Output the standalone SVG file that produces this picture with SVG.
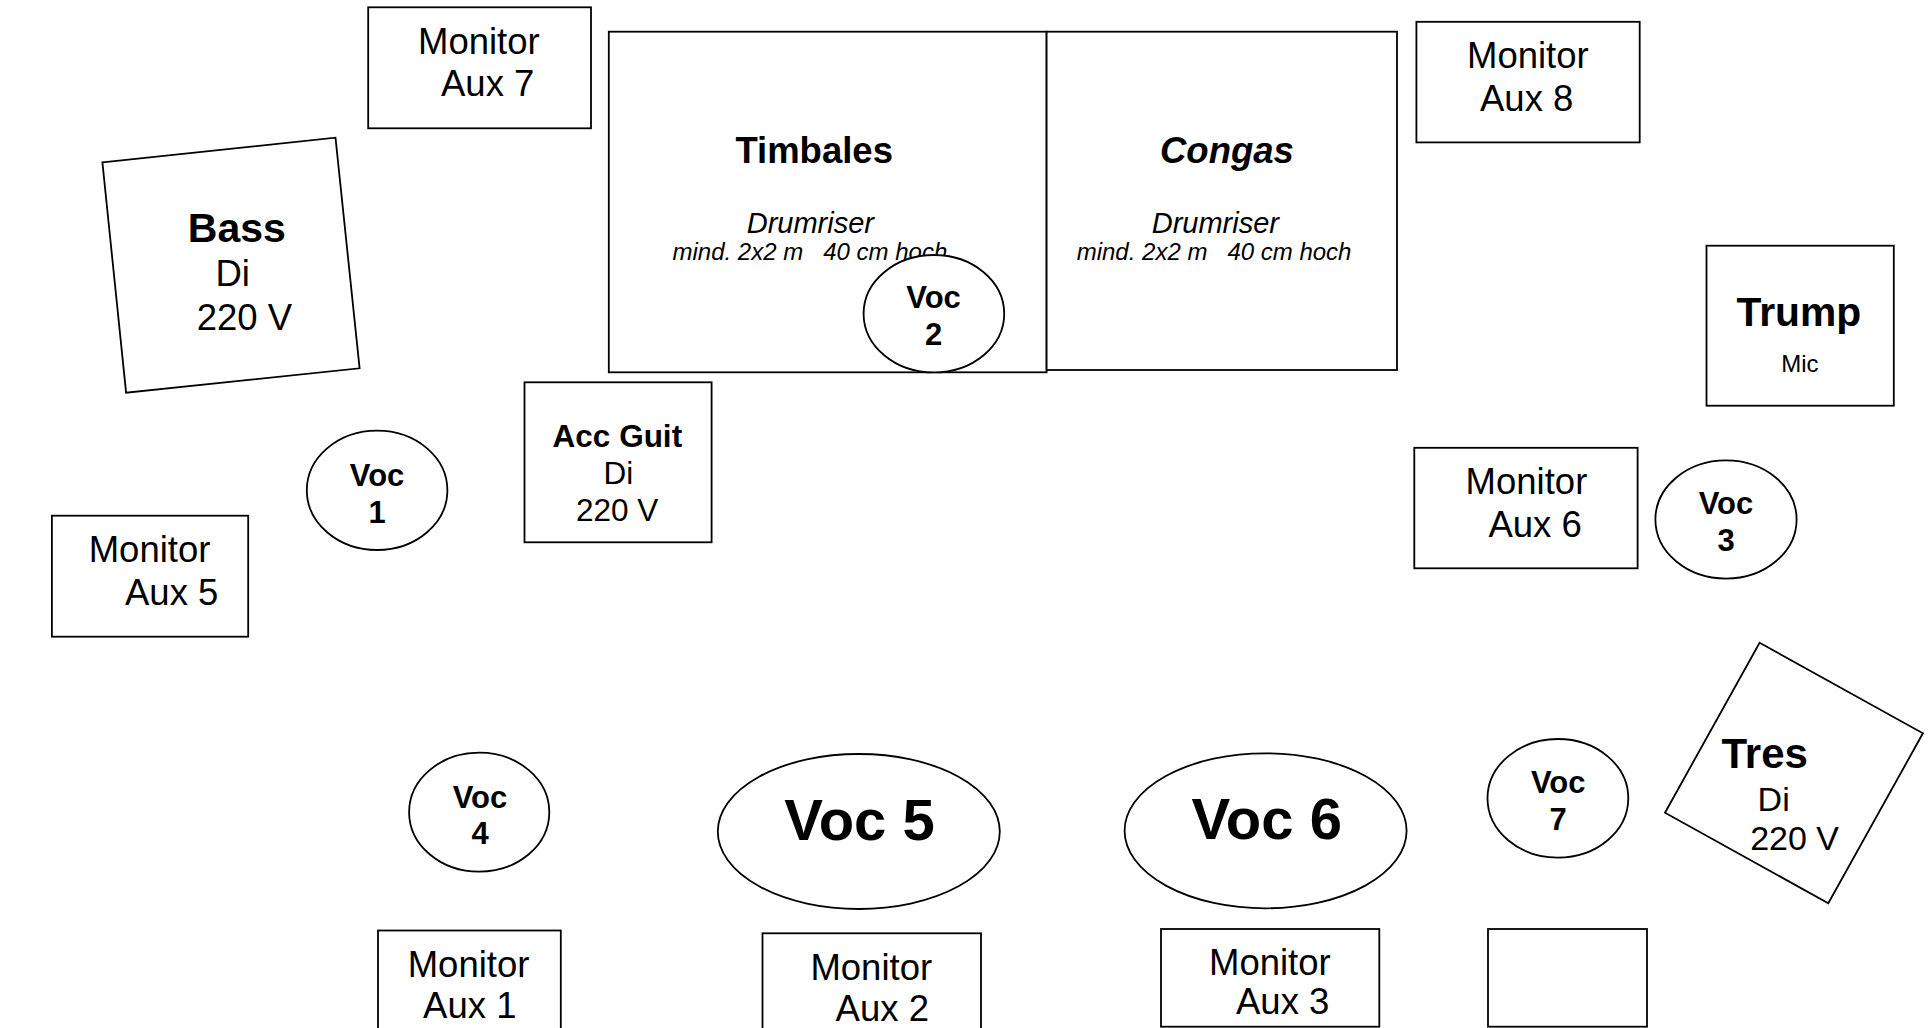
<svg xmlns="http://www.w3.org/2000/svg" width="1928" height="1028" viewBox="0 0 1928 1028">
<style>
.box{fill:#fff;stroke:#000;stroke-width:1.8}
.t{font-family:"Liberation Sans",Arial,sans-serif;fill:#000}
.m{font-size:36.5px}
.b{font-weight:bold}
.i{font-style:italic}
.v{font-size:31px;font-weight:bold;text-anchor:middle}
.big{font-size:58px;font-weight:bold;text-anchor:middle}
</style>
<rect width="1928" height="1028" fill="#fff"/>
<g id="connectors"/>

<g id="timbales">
<rect class="box" x="608.8" y="31.7" width="437.8" height="340.6"/>
<text class="t b" x="735.4" y="162.7" font-size="36.5">Timbales</text>
<text class="t i" x="746.7" y="232.8" font-size="29">Drumriser</text>
<text class="t i" x="672.5" y="260" font-size="24" xml:space="preserve">mind. 2x2 m   40 cm hoch</text>
</g>
<g id="congas">
<rect class="box" x="1046.6" y="31.7" width="350.4" height="338.3"/>
<text class="t b i" x="1160" y="162.7" font-size="36.5">Congas</text>
<text class="t i" x="1151.7" y="232.8" font-size="29">Drumriser</text>
<text class="t i" x="1076.7" y="260" font-size="24" xml:space="preserve">mind. 2x2 m   40 cm hoch</text>
</g>

<g id="voc2">
<ellipse class="box" cx="933.9" cy="313.7" rx="70.3" ry="58.7"/>
<text class="t v" x="933.6" y="308.3">Voc</text>
<text class="t v" x="933.6" y="345">2</text>
</g>

<g id="monitor-aux7">
<rect class="box" x="368.2" y="7.3" width="222.8" height="121"/>
<text class="t m" x="418" y="54">Monitor</text>
<text class="t m" x="441" y="96">Aux 7</text>
</g>
<g id="monitor-aux8">
<rect class="box" x="1416.4" y="21.8" width="223.3" height="120.6"/>
<text class="t m" x="1467" y="68">Monitor</text>
<text class="t m" x="1480" y="111">Aux 8</text>
</g>
<g id="bass">
<polygon class="box" points="102.4,162.3 335.5,137.7 359.6,368.3 126.1,392.7"/>
<text class="t b" x="187.8" y="242.3" font-size="41">Bass</text>
<text class="t m" x="215.5" y="286">Di</text>
<text class="t m" x="196.7" y="330">220 V</text>
</g>
<g id="trump">
<rect class="box" x="1706.5" y="245.7" width="187.3" height="160"/>
<text class="t b" x="1736.5" y="326" font-size="40.8">Trump</text>
<text class="t" x="1781.3" y="372.4" font-size="24">Mic</text>
</g>
<g id="acc-guit">
<rect class="box" x="524.5" y="382.3" width="187.1" height="160"/>
<text class="t b" x="552.6" y="446.7" font-size="31.5">Acc Guit</text>
<text class="t" x="603.4" y="484" font-size="31.5">Di</text>
<text class="t" x="575.9" y="520.7" font-size="31.5">220 V</text>
</g>
<g id="voc1">
<ellipse class="box" cx="377.1" cy="490.3" rx="70.3" ry="59.7"/>
<text class="t v" x="377.1" y="486">Voc</text>
<text class="t v" x="377.1" y="522.7">1</text>
</g>
<g id="monitor-aux5">
<rect class="box" x="51.9" y="515.7" width="196.3" height="121"/>
<text class="t m" x="88.7" y="561.7">Monitor</text>
<text class="t m" x="125" y="605">Aux 5</text>
</g>
<g id="monitor-aux6">
<rect class="box" x="1414.3" y="447.8" width="223.3" height="120.5"/>
<text class="t m" x="1465.6" y="493.7">Monitor</text>
<text class="t m" x="1488.4" y="536.6">Aux 6</text>
</g>
<g id="voc3">
<ellipse class="box" cx="1726" cy="519.5" rx="70.6" ry="59.1"/>
<text class="t v" x="1726" y="514">Voc</text>
<text class="t v" x="1726" y="551">3</text>
</g>
<g id="voc4">
<ellipse class="box" cx="479.2" cy="812.2" rx="70.1" ry="59.5"/>
<text class="t v" x="480" y="807.7">Voc</text>
<text class="t v" x="480" y="844">4</text>
</g>
<g id="voc5">
<ellipse class="box" cx="858.8" cy="831.5" rx="141" ry="77.5"/>
<text class="t big" x="859.5" y="840">Voc 5</text>
</g>
<g id="voc6">
<ellipse class="box" cx="1265.6" cy="830.8" rx="141" ry="77.5"/>
<text class="t big" x="1266.7" y="839.3">Voc 6</text>
</g>
<g id="voc7">
<ellipse class="box" cx="1557.9" cy="798.3" rx="70.4" ry="59.3"/>
<text class="t v" x="1558.2" y="793.3">Voc</text>
<text class="t v" x="1558.2" y="830">7</text>
</g>
<g id="tres">
<polygon class="box" points="1759.6,642.7 1922.9,733.3 1828.3,903.3 1665,812.7"/>
<text class="t b" x="1721.5" y="768.3" font-size="42">Tres</text>
<text class="t" x="1757.6" y="810.7" font-size="34">Di</text>
<text class="t" x="1750.2" y="850" font-size="34">220 V</text>
</g>
<g id="monitor-aux1">
<rect class="box" x="378" y="930.5" width="182.8" height="110"/>
<text class="t m" x="407.7" y="976.7">Monitor</text>
<text class="t m" x="423.1" y="1018.3">Aux 1</text>
</g>
<g id="monitor-aux2">
<rect class="box" x="762.5" y="933.3" width="218.5" height="110"/>
<text class="t m" x="810.4" y="980">Monitor</text>
<text class="t m" x="835.6" y="1020.7">Aux 2</text>
</g>
<g id="monitor-aux3">
<rect class="box" x="1161" y="929" width="218.3" height="97.7"/>
<text class="t m" x="1209" y="975">Monitor</text>
<text class="t m" x="1236" y="1014">Aux 3</text>
</g>
<g id="empty-box">
<rect class="box" x="1488" y="929" width="159" height="97.7"/>
</g>
</svg>
